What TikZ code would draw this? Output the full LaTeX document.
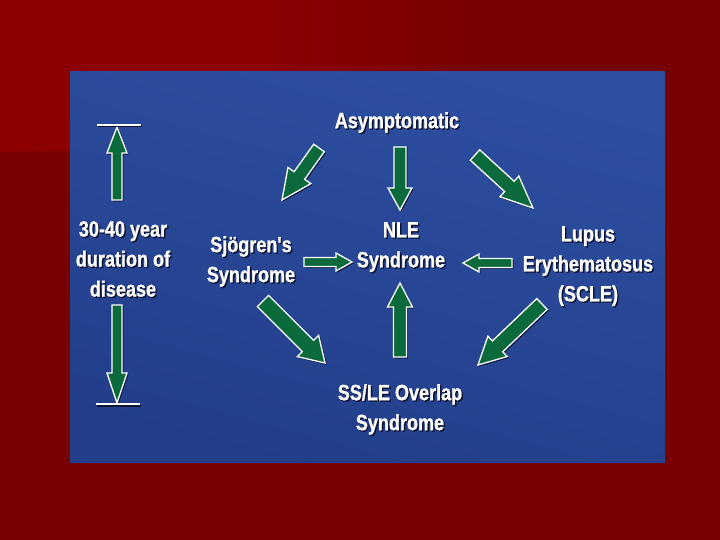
\documentclass[tikz,border=0pt]{standalone}
\usepackage{fontspec}
\newfontfamily\lblfont{Liberation Sans}[FakeStretch=0.82,FakeBold=1]
\usetikzlibrary{calc}
\definecolor{bgred}{HTML}{770000}
\definecolor{bgredlight}{HTML}{8C0000}
\definecolor{bluetop}{HTML}{2D4FA0}
\definecolor{bluebot}{HTML}{223E8A}
\definecolor{arrgreen}{HTML}{0A6A3C}
\definecolor{shadowc}{HTML}{0E1434}
\newcommand\sh[1]{\makebox[0pt][l]{\kern1.4pt\raisebox{-1.4pt}{\textcolor{shadowc}{#1}}}#1}
\tikzset{
  lbl/.style={text=white, inner sep=0pt, align=center, anchor=north,
    font=\lblfont\bfseries\fontsize{22}{30}\selectfont},
  barr/.style={fill=arrgreen, draw=white, line width=1.3pt, line join=miter,
    preaction={fill=shadowc, draw=shadowc, transform canvas={shift={(1.2pt,-1.2pt)}}}},
  bar/.style={draw=white, line width=2pt}
}
\newcommand\blockarr[5]{%
  \coordinate (#1-#2-h) at ($(#2)!#5pt!(#1)$);
  \draw[barr] ($(#1)!#3pt!90:(#2)$) -- ($(#1-#2-h)!#3pt!90:(#2)$) -- ($(#1-#2-h)!#4pt!90:(#2)$) -- (#2) -- ($(#1-#2-h)!#4pt!-90:(#2)$) -- ($(#1-#2-h)!#3pt!-90:(#2)$) -- ($(#1)!#3pt!-90:(#2)$) -- cycle;
}
\begin{document}
\begin{tikzpicture}[x=1pt,y=-1pt]
\useasboundingbox (0,0) rectangle (720,540);
% background
\fill[bgred] (0,0) rectangle (720,540);
\fill[bgredlight] (0,0) -- (260,0) -- (260,148) -- (0,152) -- cycle;
\shade[left color=bgredlight, right color=bgred] (259,0) rectangle (480,148);
% blue panel
\shade[top color=bluetop, bottom color=bluebot, shading angle=-15] (70,72) rectangle (665,462);
% labels
\node[lbl] (asym) at (397,112) {\sh{Asymptomatic}};
\node[lbl] (nle) at (401,222) {\sh{NLE}\\\sh{Syndrome}};
\node[lbl] (sjo) at (251,236) {\sh{Sjögren's}\\\sh{Syndrome}};
\node[lbl] (lupus) at (588,226) {\sh{Lupus}\\\sh{Erythematosus}\\\sh{(SCLE)}};
\node[lbl] (ssle) at (400,384) {\sh{SS/LE Overlap}\\\sh{Syndrome}};
\node[lbl] (dur) at (123,221) {\sh{30-40 year}\\\sh{duration of}\\\sh{disease}};
% arrow end points
\coordinate (a1) at (400,147); \coordinate (b1) at (400,210);
\coordinate (a2) at (319,148); \coordinate (b2) at (282,200);
\coordinate (a3) at (475,155); \coordinate (b3) at (533,208);
\coordinate (a4) at (304,262); \coordinate (b4) at (352,262);
\coordinate (a5) at (512,263); \coordinate (b5) at (463,263);
\coordinate (a6) at (400,357); \coordinate (b6) at (400,283);
\coordinate (a7) at (263,301); \coordinate (b7) at (325,363);
\coordinate (a8) at (542,304); \coordinate (b8) at (478,365);
\coordinate (d1) at (117,200); \coordinate (e1) at (117,127);
\coordinate (d2) at (117,305); \coordinate (e2) at (117,403);
\coordinate (t1) at (97,125); \coordinate (t2) at (141,125);
\coordinate (u1) at (96,404); \coordinate (u2) at (140,404);
% arrows
\blockarr{a1}{b1}{6}{12}{22}
\blockarr{a2}{b2}{6.5}{14}{30}
\blockarr{a3}{b3}{7}{14}{32}
\blockarr{a4}{b4}{4.5}{9}{16}
\blockarr{a5}{b5}{4.5}{9}{16}
\blockarr{a6}{b6}{6.5}{12.5}{24}
\blockarr{a7}{b7}{8}{15}{24}
\blockarr{a8}{b8}{7.5}{14}{27}
\blockarr{d1}{e1}{5}{10}{26}
\blockarr{d2}{e2}{5}{10}{30}
% bars
\draw[draw=shadowc, line width=2pt] ($(t1)+(1,1.5)$) -- ($(t2)+(1,1.5)$);
\draw[draw=shadowc, line width=2pt] ($(u1)+(1,1.5)$) -- ($(u2)+(1,1.5)$);
\draw[bar] (t1) -- (t2);
\draw[bar] (u1) -- (u2);
\end{tikzpicture}
\end{document}
